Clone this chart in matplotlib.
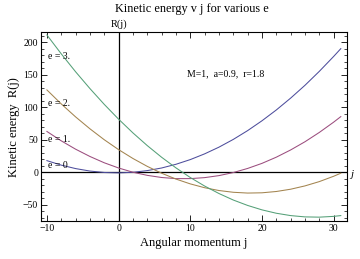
import matplotlib
matplotlib.use("Agg")
import matplotlib.pyplot as plt
from matplotlib.ticker import MultipleLocator, FuncFormatter

plt.rcParams['font.family'] = ['Liberation Serif', 'DejaVu Serif']

# angular momentum samples and kinetic energy
j = [-10, -8, -6, -4, -2, 0, 2, 4, 6, 8, 10, 12, 14, 16, 18, 20, 22, 24, 26, 28, 30, 31]
r_e0 = [17.8, 10.9, 5.6, 1.8, -0.4, -1.0, -0.1, 2.5, 6.5, 12.2, 19.4, 28.2, 38.5, 50.4,
        63.9, 79.0, 95.6, 113.8, 133.5, 154.9, 177.8, 189.8]
r_e1 = [62.6, 48.2, 35.4, 24.2, 14.5, 6.5, 0.0, -4.8, -8.1, -9.8, -9.8, -8.3, -5.2, -0.5,
        5.8, 13.6, 23.1, 34.2, 46.8, 61.1, 76.9, 85.4]
r_e2 = [126.4, 104.9, 85.0, 66.7, 49.9, 34.7, 21.1, 9.0, -1.5, -10.5, -17.9, -23.8, -28.1,
        -30.8, -32.0, -31.6, -29.6, -26.1, -21.0, -14.4, -6.2, -1.5]
r_e3 = [210.8, 181.8, 154.3, 128.5, 104.2, 81.5, 60.4, 40.9, 23.0, 6.7, -8.1, -21.2, -32.7,
        -42.7, -51.0, -57.8, -63.0, -66.6, -68.6, -69.0, -67.8, -66.6]

series = [r_e0, r_e1, r_e2, r_e3]
colors = ['#4d4d9c', '#9b4d7e', '#a3844f', '#55a078']
e_labels = ['e = 0', 'e = 1.', 'e = 2.', 'e = 3.']
e_label_y = [11, 50, 105, 178]


def minus_fmt(v, p):
    return '%d' % v if v >= 0 else '\u2212%d' % -v


fig = plt.figure(figsize=(3.6, 2.59), dpi=100)
ax = fig.add_axes([0.114, 0.147, 0.849, 0.728])

for vals, c in zip(series, colors):
    ax.plot(j, vals, color=c, linewidth=0.75)

ax.axhline(0, color='black', linewidth=0.9, zorder=1)
ax.axvline(0, color='black', linewidth=0.9, zorder=1)

ax.set_xlim(-10.82, 31.82)
ax.set_ylim(-74.8, 214.8)
ax.xaxis.set_major_locator(MultipleLocator(10))
ax.xaxis.set_minor_locator(MultipleLocator(2))
ax.yaxis.set_major_locator(MultipleLocator(50))
ax.yaxis.set_minor_locator(MultipleLocator(10))
ax.xaxis.set_major_formatter(FuncFormatter(minus_fmt))
ax.yaxis.set_major_formatter(FuncFormatter(minus_fmt))
ax.tick_params(which='both', direction='in', top=True, right=True, labelsize=7, pad=2)
ax.tick_params(which='major', length=4, width=0.6)
ax.tick_params(which='minor', length=2.2, width=0.5)
for s in ax.spines.values():
    s.set_linewidth(0.8)

for lab, y in zip(e_labels, e_label_y):
    ax.text(-9.9, y, lab, fontsize=7, va='center', ha='left')
ax.text(9.6, 151, 'M=1,  a=0.9,  r=1.8', fontsize=7, va='center', ha='left')

ax.set_xlabel('Angular momentum j', fontsize=9, labelpad=3)
ax.set_ylabel('Kinetic energy  R(j)', fontsize=9, labelpad=2)
fig.text(0.532, 0.966, 'Kinetic energy v j for various e', fontsize=8.8, ha='center', va='center')
fig.text(0.331, 0.908, 'R(j)', fontsize=7.5, ha='center', va='center')
fig.text(0.978, 0.325, 'j', fontsize=8, style='italic', ha='center', va='center')

fig.savefig('out.png', dpi=100)
